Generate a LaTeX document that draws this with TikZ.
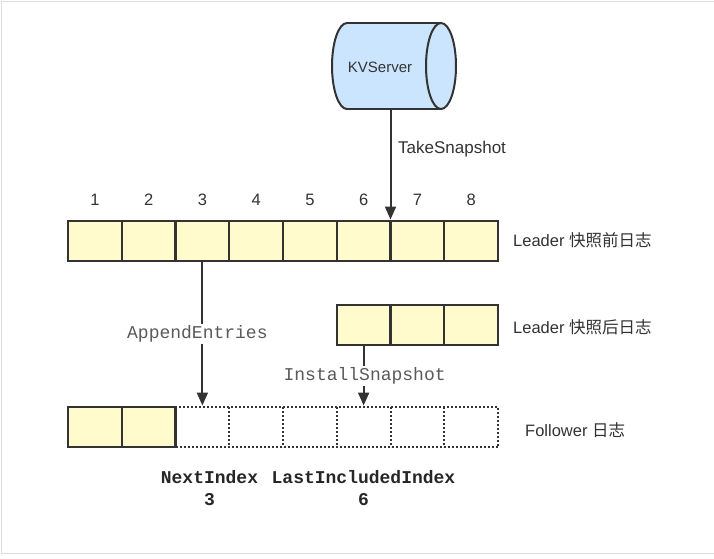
\documentclass[tikz,border=0pt]{standalone}
\usepackage{fontspec}
\setmainfont{Liberation Sans}
\setmonofont{Liberation Mono}
\newfontfamily\cjk{Noto Sans CJK SC}
\usetikzlibrary{arrows.meta}
\definecolor{cellyellow}{HTML}{FFFBCC}
\definecolor{kvblue}{HTML}{CCE5FF}
\definecolor{edgegray}{HTML}{333333}
\definecolor{monogray}{HTML}{5A5A5A}
\definecolor{bordergray}{HTML}{DDDDDD}
\begin{document}
\begin{tikzpicture}[x=1pt,y=-1pt,
  cell/.style={minimum width=53.75pt, minimum height=40pt, inner sep=0pt, outer sep=0pt},
  full/.style={cell, draw=edgegray, line width=2.1pt, fill=cellyellow},
  emptycell/.style={cell},
  dotline/.style={draw=edgegray, line width=2pt, dash pattern=on 2pt off 2pt},
  kvbody/.style={draw=edgegray, line width=2pt, fill=kvblue},
  lbl/.style={font=\fontsize{16.5}{19}\selectfont, text=edgegray, inner sep=0pt},
  mono/.style={font=\ttfamily\fontsize{18}{22}\selectfont, text=monogray, fill=white, inner sep=2pt},
  monob/.style={font=\ttfamily\bfseries\fontsize{18}{22}\selectfont, text=black!85, align=center, inner sep=0pt},
  arr/.style={draw=edgegray, line width=2pt, shorten >=1.5pt, -{Triangle[length=13pt,width=11pt]}}
]
\useasboundingbox (0,0) rectangle (714,558);
\fill[white] (0,0) rectangle (714,558);
\draw[bordergray, line width=1pt] (714,1.5) -- (1.5,1.5) -- (1.5,553) -- (714,553);

% KVServer cylinder
\fill[kvblue] (347,23) rectangle (441,109);
\begin{scope}
  \clip (320,0) rectangle (347,130);
  \path[kvbody] (347,66) ellipse [x radius=15, y radius=43];
\end{scope}
\draw[edgegray, line width=2pt] (347,23) -- (441,23) (347,109) -- (441,109);
\path[kvbody] (441,66) ellipse [x radius=15, y radius=43];
\node[lbl, font=\fontsize{15}{18}\selectfont] (kv) at (380,67) {KVServer};

% leader log before snapshot
\foreach \i in {1,...,8} {
  \node[full] (L\i) at ({68+53.75*(\i-0.5)},241) {};
  \node[lbl] (n\i) at ({68+53.75*(\i-0.5)},200) {\i};
}
% leader log after snapshot
\foreach \i in {6,7,8}
  \node[full] (S\i) at ({68+53.75*(\i-0.5)},325) {};

% follower log
\foreach \i in {3,...,8}
  \node[emptycell] (F\i) at ({68+53.75*(\i-0.5)},427) {};
\draw[dotline] (F3.north west) rectangle (F8.south east);
\foreach \i in {4,...,8}
  \draw[dotline] (F\i.north west) -- (F\i.south west);
\foreach \i in {1,2}
  \node[full] (F\i) at ({68+53.75*(\i-0.5)},427) {};

% side labels
\node[lbl, anchor=west] (lead1) at (513,240) {Leader {\cjk 快照前日志}};
\node[lbl, anchor=west] (lead2) at (513,327) {Leader {\cjk 快照后日志}};
\node[lbl, anchor=west] (fol) at (525,430) {Follower {\cjk 日志}};

% connectors
\coordinate (kvbot) at (390.5,109);
\draw[arr] (kvbot) -- (L6.north east);
\node[lbl, anchor=west, font=\fontsize{17}{20}\selectfont] (ts) at (398,149) {TakeSnapshot};
\draw[arr] (L3.south) -- node[mono, xshift=-5pt] (ae) {AppendEntries} (F3.north);
\draw[arr] (S6.south) -- node[mono, xshift=1pt] (is) {InstallSnapshot} (F6.north);

% bottom labels
\node[monob] (ni) at (209.5,488) {NextIndex\\3};
\node[monob] (li) at (363.5,488) {LastIncludedIndex\\6};
\end{tikzpicture}
\end{document}
